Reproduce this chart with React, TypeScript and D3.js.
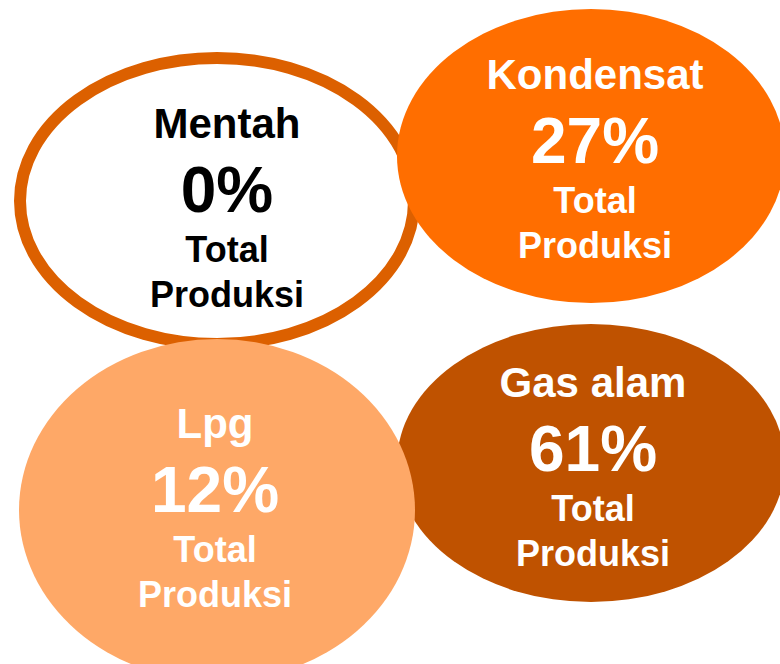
import React, { useEffect, useRef } from "react";
import * as d3 from "d3";

// ---- data ----
const categories = ["Mentah", "Kondensat", "Lpg", "Gas alam"];
const percentages = [0, 27, 12, 61];
const subLabels = ["Total", "Produksi"];
// grid slot for each category: [column, row]
const gridCols = [0, 1, 0, 1];
const gridRows = [0, 0, 1, 1];
// style palette
const fills = ["#FFFFFF", "#FF6E00", "#FEA867", "#BF5200"];
const strokes = ["#DC6000", "none", "none", "none"];
const textColors = ["#000000", "#FFFFFF", "#FFFFFF", "#FFFFFF"];
// draw order (later = on top)
const drawOrder = [0, 1, 3, 2];

const W = 780;
const H = 664;

export default function App() {
  const ref = useRef<SVGSVGElement | null>(null);

  useEffect(() => {
    const svg = d3.select(ref.current);
    svg.selectAll("*").remove();

    const x = d3.scaleOrdinal<number, number>().domain([0, 1]).range([217, 591]);
    const yTop = d3.scaleOrdinal<number, number>().domain([0, 1]).range([201, 156]);
    const yBot = d3.scaleOrdinal<number, number>().domain([0, 1]).range([510, 463]);
    const rx = d3.scaleOrdinal<number, number>().domain([0, 1, 2, 3]).range([197, 194, 198, 194]);
    const ry = d3.scaleOrdinal<number, number>().domain([0, 1, 2, 3]).range([143, 147, 171, 139]);
    const textX = d3.scaleOrdinal<number, number>().domain([0, 1, 2, 3]).range([227, 595, 215, 593]);
    const titleY = d3.scaleOrdinal<number, number>().domain([0, 1, 2, 3]).range([138, 89, 438, 397]);

    const cy = (i: number) => (gridRows[i] === 0 ? yTop(gridCols[i]) : yBot(gridCols[i]));

    const g = svg.append("g");
    drawOrder.forEach((i) => {
      g.append("ellipse")
        .attr("cx", x(gridCols[i]))
        .attr("cy", cy(i))
        .attr("rx", rx(i))
        .attr("ry", ry(i))
        .attr("fill", fills[i])
        .attr("stroke", strokes[i])
        .attr("stroke-width", strokes[i] === "none" ? 0 : 12);
    });

    const font = "Arial, 'Liberation Sans', Helvetica, sans-serif";
    categories.forEach((c, i) => {
      const t = svg
        .append("g")
        .attr("font-family", font)
        .attr("font-weight", "bold")
        .attr("fill", textColors[i])
        .attr("text-anchor", "middle");
      const tx = textX(i);
      const ty = titleY(i);
      t.append("text").attr("x", tx).attr("y", ty).attr("font-size", 42).text(c);
      t.append("text")
        .attr("x", tx)
        .attr("y", ty + 74)
        .attr("font-size", 64)
        .text(`${percentages[i]}%`);
      t.append("text")
        .attr("x", tx)
        .attr("y", ty + 124)
        .attr("font-size", 36)
        .text(subLabels[0]);
      t.append("text")
        .attr("x", tx)
        .attr("y", ty + 169)
        .attr("font-size", 36)
        .text(subLabels[1]);
    });
  }, []);

  return (
    <svg
      ref={ref}
      width={W}
      height={H}
      style={{ position: "absolute", left: 0, top: 0, background: "#FFFFFF" }}
    />
  );
}
